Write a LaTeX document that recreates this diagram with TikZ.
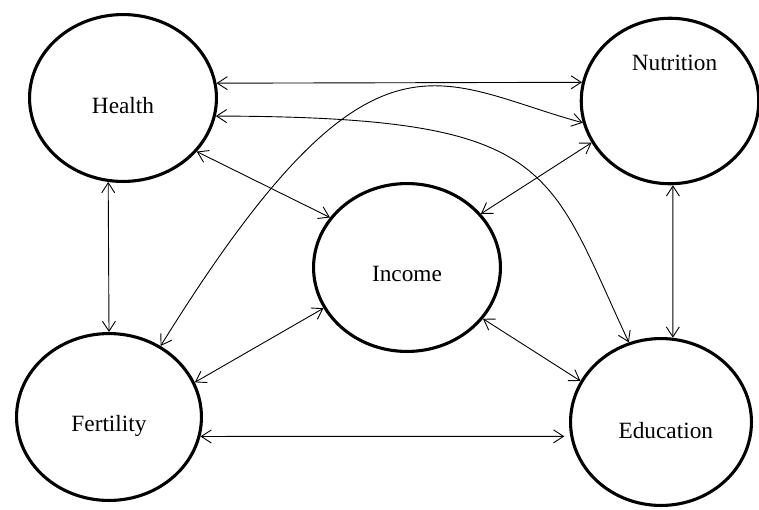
\documentclass[tikz,border=0pt]{standalone}
\usepackage{fontspec}
\setmainfont{Liberation Serif}
\usetikzlibrary{shapes.geometric,arrows.meta}
\begin{document}
\begin{tikzpicture}[x=1pt,y=-1pt,
  bub/.style={ellipse, draw, line width=3.1pt, inner sep=0pt},
  lbl/.style={font=\fontsize{23.3}{28}\selectfont, anchor=base, inner sep=0pt},
  conn/.style={line width=0.9pt, {Straight Barb[length=10pt,width=13pt]}-{Straight Barb[length=10pt,width=13pt]}}]
\useasboundingbox (0,0) rectangle (759,509);
\fill[white] (0,0) rectangle (759,509);
% bubbles
\node[bub, minimum width=186.9pt, minimum height=166.9pt] (health) at (123,98) {};
\node[bub, minimum width=177.5pt, minimum height=165.5pt] (nutrition) at (670,101) {};
\node[bub, minimum width=186.9pt, minimum height=167.9pt] (income) at (407,267.5) {};
\node[bub, minimum width=184.9pt, minimum height=166.9pt] (fertility) at (109,417) {};
\node[bub, minimum width=180.9pt, minimum height=166.9pt] (education) at (661,422) {};
% labels
\node[lbl] (thealth) at (123,113) {Health};
\node[lbl] (tnutrition) at (674.5,70.7) {Nutrition};
\node[lbl] (tincome) at (407,281.7) {Income};
\node[lbl] (tfertility) at (109,431.5) {Fertility};
\node[lbl] (teducation) at (665.8,438) {Education};
% connectors
\draw[conn] (health.9.6) -- (nutrition.168.3);
\draw[conn] (health.-11.4) .. controls (555,117) and (546,165) .. (education.112.7);
\draw[conn] (fertility.54.7) .. controls (372,5) and (436,83) .. (nutrition.-166.3);
\draw[conn] (health.-36.6) -- (income.147.7);
\draw[conn] (nutrition.-152.3) -- (income.36.1);
\draw[conn] (health.-100) -- (fertility.90.7);
\draw[conn] (nutrition.-88.7) -- (education.82.9);
\draw[conn] (fertility.22.8) -- (income.-154.3);
\draw[conn] (income.-34.6) -- (education.153.2);
\draw[conn, shorten >=6pt] (fertility.-12) -- (education.189.4);
\end{tikzpicture}
\end{document}
